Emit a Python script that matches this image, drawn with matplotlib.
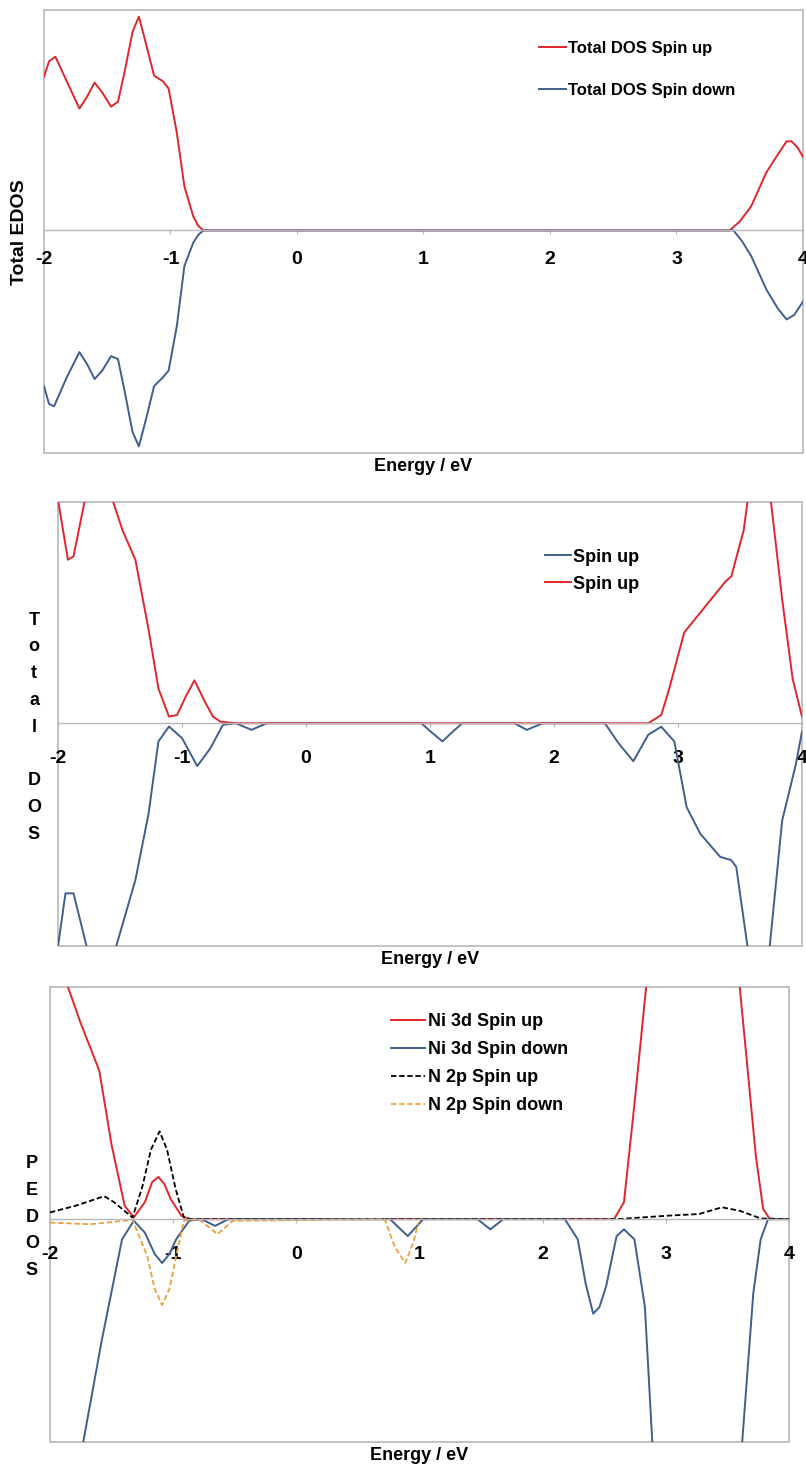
import matplotlib
matplotlib.use("Agg")
import matplotlib.pyplot as plt
from matplotlib.patches import Rectangle

plt.rcParams['font.family'] = ['Liberation Sans', 'DejaVu Sans']
plt.rcParams['font.weight'] = 'bold'
plt.rcParams['axes.unicode_minus'] = False

RED = '#e0262c'
BLUE = '#3f5f8c'
ORANGE = '#eaa23a'
GRAY = '#b8b8b8'

# panel 1: total DOS
e1_up = [-2.0, -1.96, -1.91, -1.82, -1.72, -1.66, -1.60, -1.54, -1.47, -1.415, -1.36,
         -1.30, -1.25, -1.19, -1.13, -1.06, -1.015, -0.95, -0.89, -0.82, -0.78, -0.74,
         3.42, 3.50, 3.59, 3.71, 3.80, 3.87, 3.91, 3.96, 4.0]
d1_up = [6.9, 7.6, 7.8, 6.7, 5.47, 6.0, 6.64, 6.2, 5.56, 5.78, 7.2,
         8.92, 9.6, 8.3, 6.95, 6.7, 6.37, 4.39, 1.97, 0.63, 0.2, 0.0,
         0.0, 0.4, 1.08, 2.6, 3.4, 4.0, 4.0, 3.7, 3.3]
e1_dn = [-2.0, -1.96, -1.92, -1.82, -1.72, -1.66, -1.60, -1.54, -1.47, -1.415, -1.36,
         -1.30, -1.25, -1.19, -1.13, -1.06, -1.015, -0.95, -0.89, -0.82, -0.78, -0.74,
         3.45, 3.52, 3.59, 3.71, 3.80, 3.87, 3.93, 4.0]
d1_dn = [-7.0, -7.8, -7.9, -6.6, -5.47, -6.0, -6.68, -6.3, -5.65, -5.78, -7.3,
         -9.06, -9.7, -8.4, -7.0, -6.6, -6.3, -4.3, -1.6, -0.55, -0.2, 0.0,
         0.0, -0.5, -1.15, -2.65, -3.5, -4.0, -3.8, -3.2]

# panel 2: total DOS
e2_up = [-2.0, -1.92, -1.875, -1.79, -1.70, -1.60, -1.555, -1.48, -1.376, -1.27, -1.19,
         -1.105, -1.04, -0.97, -0.90, -0.815, -0.75, -0.69, -0.566,
         2.76, 2.865, 2.93, 3.05, 3.18, 3.385, 3.43, 3.53, 3.56, 3.65, 3.75, 3.84, 3.925, 4.0]
d2_up = [10.1, 7.39, 7.54, 9.9, 13.0, 13.0, 10.0, 8.73, 7.39, 4.25, 1.57,
         0.3, 0.37, 1.2, 1.94, 0.97, 0.3, 0.07, 0.0,
         0.0, 0.37, 1.57, 4.1, 5.0, 6.42, 6.64, 8.73, 10.0, 13.0, 10.0, 5.6, 2.0, 0.3]
e2_dn = [-2.0, -1.94, -1.875, -1.77, -1.65, -1.53, -1.376, -1.27, -1.19, -1.105, -1.0,
         -0.877, -0.77, -0.67, -0.566, -0.44, -0.316, 0.93, 1.0, 1.10, 1.18, 1.26,
         1.68, 1.78, 1.91, 2.41, 2.52, 2.64, 2.76, 2.865, 2.97, 3.07, 3.18, 3.34, 3.43,
         3.47, 3.56, 3.65, 3.74, 3.84, 3.95, 4.0]
d2_dn = [-10.1, -7.69, -7.69, -10.07, -13.0, -10.07, -7.09, -4.1, -0.82, -0.15, -0.67,
         -1.94, -1.12, -0.07, 0.0, -0.3, 0.0, 0.0, -0.35, -0.82, -0.4, 0.0,
         0.0, -0.3, 0.0, 0.0, -0.9, -1.72, -0.52, -0.16, -0.82, -3.8, -5.0, -6.04, -6.19,
         -6.5, -10.07, -13.0, -10.07, -4.4, -1.87, -0.37]

# panel 3: projected DOS
e3_ni_up = [-2.0, -1.854, -1.75, -1.60, -1.50, -1.394, -1.32, -1.23, -1.17, -1.12, -1.07,
            -1.02, -0.934, -0.87, 2.58, 2.66, 2.745, 2.84, 2.95, 3.50, 3.60, 3.665, 3.73,
            3.79, 3.845, 4.0]
d3_ni_up = [13.0, 10.0, 8.43, 6.4, 3.2, 0.58, 0.07, 0.73, 1.6, 1.82, 1.5,
            0.87, 0.15, 0.0, 0.0, 0.73, 4.94, 10.0, 14.0, 14.0, 10.0, 6.4, 2.76,
            0.44, 0.0, 0.0]
e3_ni_dn = [-2.0, -1.73, -1.58, -1.415, -1.32, -1.23, -1.15, -1.09, -1.03, -0.976, -0.87,
            -0.77, -0.66, -0.55, 0.76, 0.905, 1.03, 1.47, 1.575, 1.68, 2.18, 2.285, 2.35,
            2.41, 2.46, 2.515, 2.6, 2.66, 2.745, 2.83, 2.89, 3.0, 3.5, 3.62, 3.71, 3.77,
            3.83, 4.0]
d3_ni_dn = [-14.0, -9.6, -5.23, -0.87, -0.07, -0.58, -1.5, -1.89, -1.5, -0.87, -0.07,
            0.0, -0.29, 0.0, 0.0, -0.73, 0.0, 0.0, -0.44, 0.0, 0.0, -0.87, -2.8,
            -4.07, -3.8, -2.9, -0.73, -0.44, -0.87, -3.78, -9.6, -14.0, -14.0, -9.6, -3.2,
            -0.87, 0.0, 0.0]
e3_n_up = [-2.0, -1.79, -1.56, -1.48, -1.33, -1.25, -1.18, -1.11, -1.05, -0.98, -0.913,
           -0.85, 2.6, 3.02, 3.27, 3.456, 3.60, 3.77, 4.0]
d3_n_up = [0.29, 0.58, 0.99, 0.73, 0.07, 1.4, 3.0, 3.78, 3.0, 1.3, 0.07,
           0.0, 0.0, 0.15, 0.22, 0.51, 0.36, 0.03, 0.0]
e3_n_dn = [-2.0, -1.67, -1.33, -1.21, -1.15, -1.09, -1.03, -0.976, -0.913, -0.79, -0.64,
           -0.516, 0.717, 0.80, 0.885, 0.95, 0.99]
d3_n_dn = [-0.15, -0.22, -0.03, -1.6, -3.0, -3.7, -3.0, -1.6, -0.07, 0.0, -0.65,
           -0.07, 0.0, -1.2, -1.89, -1.0, -0.15]

xticks = [-2, -1, 0, 1, 2, 3, 4]

fig = plt.figure(figsize=(8.06, 14.7), dpi=100)
W, H = 806.0, 1470.0


def make_ax(left, top, right, bottom, ylim, pad):
    ax = fig.add_axes([left / W, 1 - bottom / H, (right - left) / W, (bottom - top) / H])
    ax.set_xlim(-2, 4)
    ax.set_ylim(*ylim)
    for s in ['left', 'right', 'top']:
        ax.spines[s].set_visible(False)
    ax.spines['bottom'].set_position(('data', 0))
    ax.spines['bottom'].set_color(GRAY)
    ax.spines['bottom'].set_linewidth(1.0)
    ax.add_patch(Rectangle((0, 0), 1, 1, transform=ax.transAxes, fill=False,
                           edgecolor=GRAY, lw=1.2, zorder=0, clip_on=False))
    ax.set_yticks([])
    ax.set_xticks(xticks)
    ax.tick_params(axis='x', length=3, color=GRAY, pad=pad, labelsize=14)
    for t in ax.get_xticklabels():
        t.set_fontweight('bold')
    ax.text(0.5, -(14.0 / (bottom - top)), 'Energy / eV', transform=ax.transAxes,
            ha='center', va='center', fontsize=13, fontweight='bold')
    return ax


# panel 1
ax1 = make_ax(44, 10, 803, 453, (-10.0, 9.9), 12)
ax1.plot(e1_up, d1_up, color=RED, lw=1.4, label='Total DOS Spin up')
ax1.plot(e1_dn, d1_dn, color=BLUE, lw=1.4, label='Total DOS Spin down')
ax1.legend(loc='upper left', bbox_to_anchor=(0.652, 0.93), frameon=False,
           prop={'weight': 'bold', 'size': 12}, handlelength=1.6, handletextpad=0.15,
           labelspacing=1.6, borderpad=0, borderaxespad=0)
fig.text(20 / W, 1 - 232 / H, 'Total EDOS', rotation=90, ha='center', va='center',
         fontsize=14, fontweight='bold')

# panel 2
ax2 = make_ax(58, 502, 802, 946, (-10.07, 10.0), 16)
ax2.plot(e2_dn, d2_dn, color=BLUE, lw=1.4, label='Spin up')
ax2.plot(e2_up, d2_up, color=RED, lw=1.4, label='Spin up')
ax2.legend(loc='upper left', bbox_to_anchor=(0.655, 0.895), frameon=False,
           prop={'weight': 'bold', 'size': 13}, handlelength=1.4, handletextpad=0.15,
           labelspacing=0.55, borderpad=0, borderaxespad=0)
fig.text(34 / W, 1 - 727 / H, 'T\no\nt\na\nl\n\nD\nO\nS', ha='center', va='center',
         fontsize=13, fontweight='bold', linespacing=1.75)

# panel 3
ax3 = make_ax(50, 987, 789, 1442, (-9.6, 10.0), 16)
ax3.plot(e3_ni_up, d3_ni_up, color=RED, lw=1.4, label='Ni 3d Spin up')
ax3.plot(e3_ni_dn, d3_ni_dn, color=BLUE, lw=1.4, label='Ni 3d Spin down')
ax3.plot(e3_n_up, d3_n_up, color='black', lw=1.3, ls=(0, (3, 1.5)), label='N 2p Spin up')
ax3.plot(e3_n_dn, d3_n_dn, color=ORANGE, lw=1.3, ls=(0, (3, 1.5)), label='N 2p Spin down')
ax3.legend(loc='upper left', bbox_to_anchor=(0.461, 0.942), frameon=False,
           prop={'weight': 'bold', 'size': 13}, handlelength=1.9, handletextpad=0.15,
           labelspacing=0.6, borderpad=0, borderaxespad=0)
fig.text(32 / W, 1 - 1217 / H, 'P\nE\nD\nO\nS', ha='center', va='center',
         fontsize=13, fontweight='bold', linespacing=1.75)

fig.savefig('out.png', dpi=100)
